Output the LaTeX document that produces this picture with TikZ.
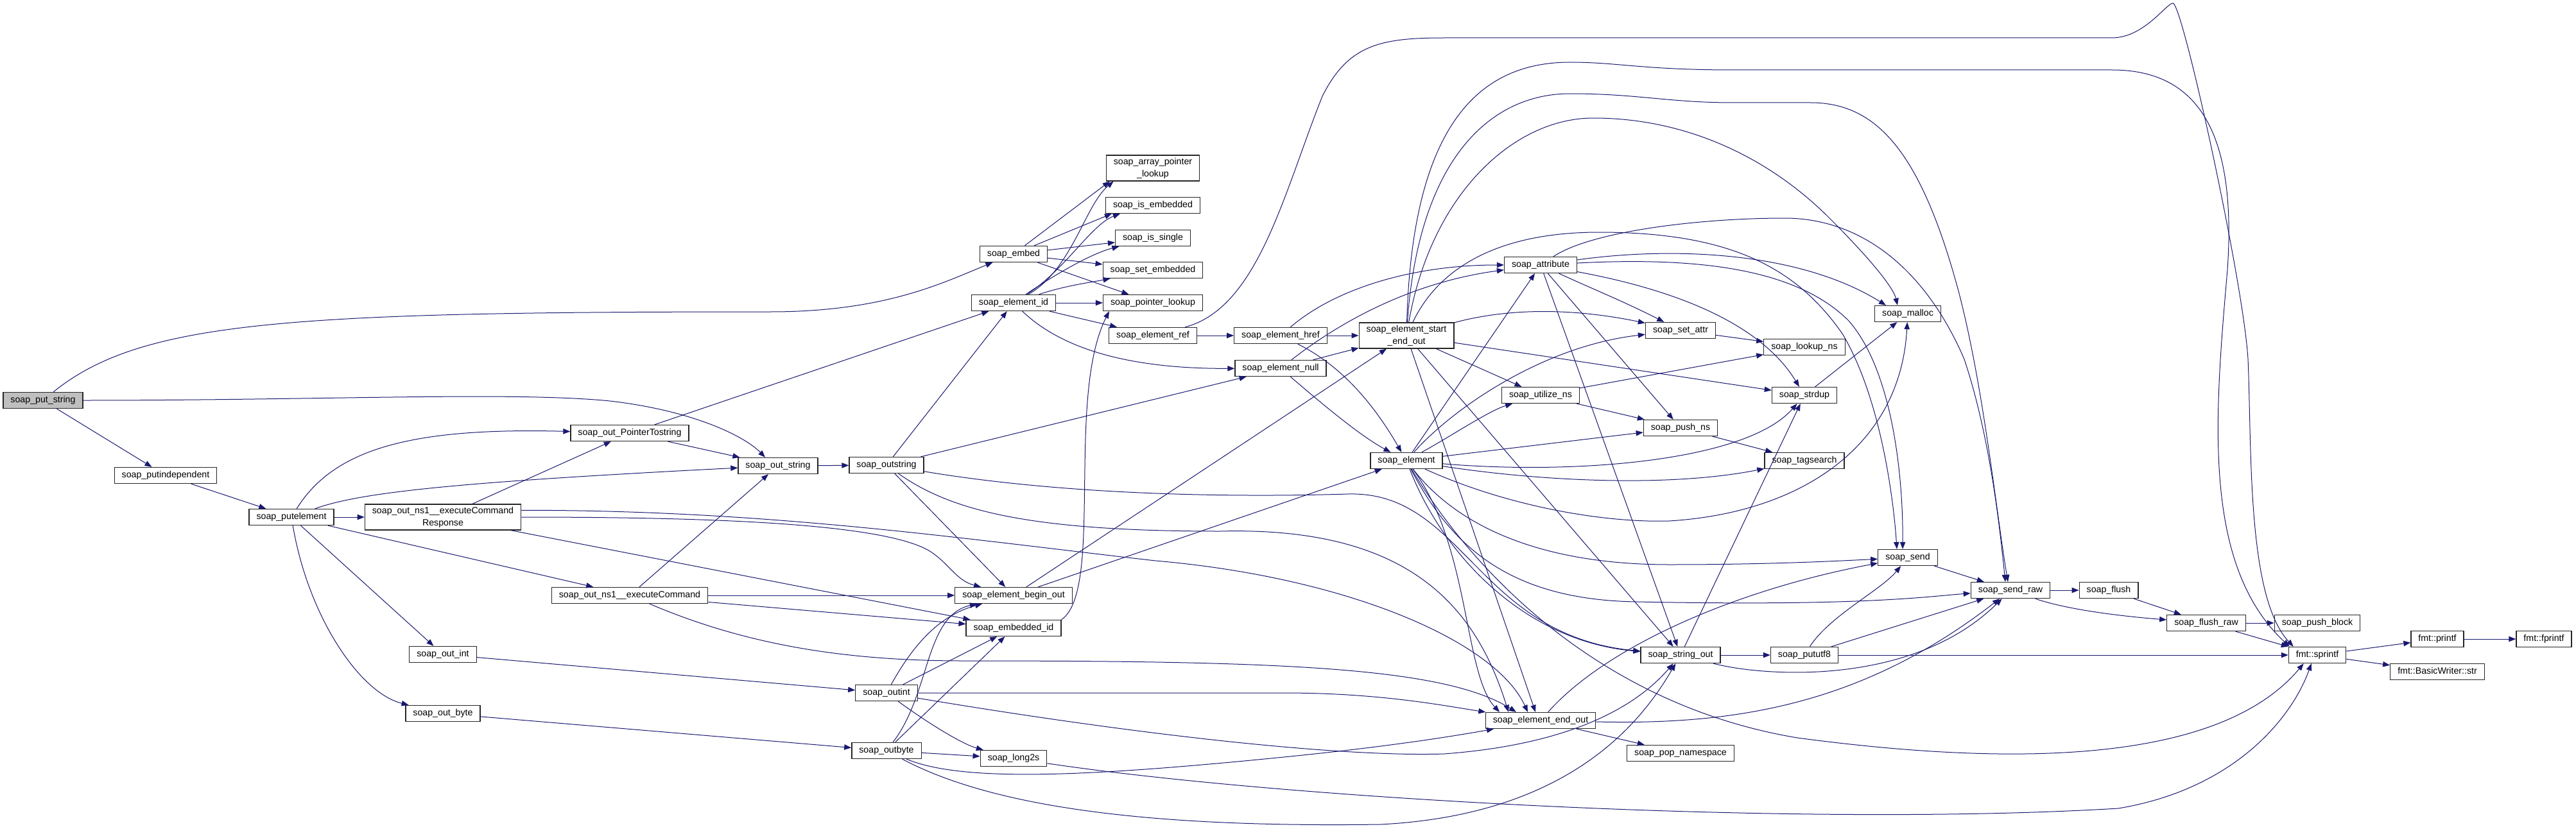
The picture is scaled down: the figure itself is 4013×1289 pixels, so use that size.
\documentclass[tikz,border=0pt]{standalone}
\usepackage{fontspec}
\setmainfont{Liberation Sans}
\usetikzlibrary{arrows.meta}
\definecolor{edgeblue}{HTML}{191970}
\tikzset{
  fnbase/.style={draw=black!85, fill=white, line width=0.65pt, inner xsep=5.75pt, inner ysep=0pt, font=\fontsize{7.1}{9.5}\selectfont},
  fn/.style={fnbase, minimum height=12.5pt, text height=5.2pt, text depth=1.5pt},
  fntwo/.style={fnbase, minimum height=20pt, align=center},
  fnroot/.style={fn, fill=black!25},
  call/.style={draw=edgeblue, line width=0.5pt, -{Triangle[length=5.5pt,width=4.2pt]}}
}
\begin{document}
\begin{tikzpicture}[x=0.5pt,y=-0.5pt]
\path[use as bounding box,fill=white] (0,0) rectangle (4013,1289);

\node[fnroot] (ps) at (67,624) {soap\_put\_string};
\node[fn] (pind) at (258,741) {soap\_putindependent};
\node[fn] (pel) at (454,806) {soap\_putelement};
\node[fntwo] (ecr) at (690,806) {soap\_out\_ns1\_\_executeCommand\\Response};
\node[fn] (oint) at (690,1020) {soap\_out\_int};
\node[fn] (obyte) at (690,1112) {soap\_out\_byte};
\node[fn] (optr) at (981,675) {soap\_out\_PointerTostring};
\node[fn] (ec) at (981,928) {soap\_out\_ns1\_\_executeCommand};
\node[fn] (ostr) at (1212,726) {soap\_out\_string};
\node[fn] (outstr) at (1381,725) {soap\_outstring};
\node[fn] (outint) at (1381,1080) {soap\_outint};
\node[fn] (outbyte) at (1381,1170) {soap\_outbyte};
\node[fn] (embed) at (1579,396) {soap\_embed};
\node[fn] (eid) at (1579,472) {soap\_element\_id};
\node[fn] (ebo) at (1579,928) {soap\_element\_begin\_out};
\node[fn] (embid) at (1579,979) {soap\_embedded\_id};
\node[fn] (l2s) at (1579,1182) {soap\_long2s};
\node[fntwo] (apl) at (1796,262) {soap\_array\_pointer\\\_lookup};
\node[fn] (isemb) at (1796,320) {soap\_is\_embedded};
\node[fn] (issgl) at (1796,371) {soap\_is\_single};
\node[fn] (setemb) at (1796,421) {soap\_set\_embedded};
\node[fn] (plook) at (1796,472) {soap\_pointer\_lookup};
\node[fn] (eref) at (1796,523) {soap\_element\_ref};
\node[fn] (ehref) at (1995,523) {soap\_element\_href};
\node[fn] (enull) at (1995,574) {soap\_element\_null};
\node[fntwo] (seo) at (2191,523) {soap\_element\_start\\\_end\_out};
\node[fn] (elem) at (2191,718) {soap\_element};
\node[fn] (attr) at (2400,413) {soap\_attribute};
\node[fn] (utns) at (2400,616) {soap\_utilize\_ns};
\node[fn] (eeo) at (2400,1123) {soap\_element\_end\_out};
\node[fn] (setattr) at (2618,515) {soap\_set\_attr};
\node[fn] (pushns) at (2618,667) {soap\_push\_ns};
\node[fn] (strout) at (2618,1021) {soap\_string\_out};
\node[fn] (popns) at (2618,1174) {soap\_pop\_namespace};
\node[fn] (lookns) at (2811,541) {soap\_lookup\_ns};
\node[fn] (strdup) at (2811,616) {soap\_strdup};
\node[fn] (tagsr) at (2811,718) {soap\_tagsearch};
\node[fn] (putf8) at (2811,1021) {soap\_pututf8};
\node[fn] (malloc) at (2972,489) {soap\_malloc};
\node[fn] (send) at (2972,869) {soap\_send};
\node[fn] (sraw) at (3132,920) {soap\_send\_raw};
\node[fn] (flush) at (3285,920) {soap\_flush};
\node[fn] (fraw) at (3437,971) {soap\_flush\_raw};
\node[fn] (pblock) at (3610,971) {soap\_push\_block};
\node[fn] (sprintf) at (3610,1021) {fmt::sprintf};
\node[fn] (printf) at (3797,996) {fmt::printf};
\node[fn] (bwstr) at (3797,1047) {fmt::BasicWriter::str};
\node[fn] (fprintf) at (3963,996) {fmt::fprintf};

\draw[call] (ps) .. controls (220,500) and (450,486) .. (1200,486) .. controls (1380,486) and (1470,440) .. (embed);
\draw[call] (ps) .. controls (500,624) and (800,610) .. (950,625) .. controls (1080,640) and (1160,680) .. ([xshift=-10pt]ostr.north);
\draw[call] (ps) -- (pind);
\draw[call] (pind) -- (pel);

\draw[call] (pel) .. controls (520,700) and (640,666) .. (optr);
\draw[call] (pel) .. controls (560,768) and (700,752) .. (ostr);
\draw[call] (pel) -- (ecr);
\draw[call] (pel) -- (ec);
\draw[call] (pel) -- (oint);
\draw[call] (pel) .. controls (480,960) and (560,1080) .. (obyte);

\draw[call] (ecr) -- (optr);
\draw[call] (ecr) .. controls (1100,806) and (1380,815) .. (1450,860) .. controls (1480,880) and (1490,905) .. (ebo);
\draw[call] (ecr.5) .. controls (1200,795) and (1500,840) .. (1800,874) .. controls (2100,900) and (2330,1000) .. ([xshift=-10pt]eeo.north);
\draw[call] (ecr) -- (embid);

\draw[call] (ec) -- (ostr);
\draw[call] (ec) -- (ebo);
\draw[call] (ec) -- (embid);
\draw[call] (ec) .. controls (1150,1000) and (1300,1030) .. (1500,1030) .. controls (2000,1030) and (2250,1040) .. ([xshift=-19pt]eeo.north);

\draw[call] (oint) -- (outint);
\draw[call] (obyte) -- (outbyte);

\draw[call] (optr) -- (eid);
\draw[call] (optr) -- (ostr);
\draw[call] (ostr) -- (outstr);

\draw[call] (outstr) -- (eid);
\draw[call] (outstr) -- (enull);
\draw[call] (outstr) -- (ebo);
\draw[call] (outstr) .. controls (1650,770) and (1900,776) .. (2100,770) .. controls (2280,765) and (2300,990) .. (strout);
\draw[call] (outstr) .. controls (1480,795) and (1600,828) .. (1900,828) .. controls (2200,820) and (2300,950) .. ([xshift=-25pt]eeo.north);

\draw[call] (outint) .. controls (1420,1010) and (1460,960) .. (ebo);
\draw[call] (outint) -- (embid);
\draw[call] (outint) .. controls (1450,1130) and (1500,1160) .. (l2s);
\draw[call] (outint) -- (2000,1080) .. controls (2150,1080) and (2250,1100) .. (eeo);
\draw[call] (outint) .. controls (1800,1150) and (2100,1180) .. (2250,1175) .. controls (2450,1160) and (2550,1100) .. (strout);

\draw[call] (outbyte) .. controls (1450,1080) and (1440,960) .. (ebo);
\draw[call] (outbyte) -- (embid);
\draw[call] (outbyte) -- (l2s);
\draw[call] (outbyte) .. controls (1500,1220) and (1700,1210) .. (2000,1180) .. controls (2150,1165) and (2250,1150) .. (eeo);
\draw[call] (outbyte) .. controls (1550,1260) and (1800,1290) .. (2150,1285) .. controls (2450,1270) and (2560,1120) .. (strout);
\draw[call] (l2s) .. controls (2000,1245) and (2800,1290) .. (3300,1260) .. controls (3480,1230) and (3570,1120) .. ([xshift=18pt]sprintf.south west);

\draw[call] (embed) -- ([xshift=3pt]apl.south west);
\draw[call] (embed) -- ([xshift=5pt]isemb.south west);
\draw[call] (embed) -- (issgl);
\draw[call] (embed) -- (setemb);
\draw[call] (embed) -- (plook);

\draw[call] (eid) .. controls (1640,430) and (1700,395) .. (issgl);
\draw[call] (eid) .. controls (1670,420) and (1690,320) .. ([xshift=6pt]apl.south west);
\draw[call] (eid) .. controls (1660,420) and (1700,350) .. ([xshift=11.5pt]isemb.south west);
\draw[call] (eid) .. controls (1660,445) and (1700,440) .. (setemb);
\draw[call] (eid) -- (plook);
\draw[call] (eid) -- (eref);
\draw[call] (eid) .. controls (1650,540) and (1750,575) .. (enull);
\draw[call] (embid.north east) .. controls (1720,920) and (1660,620) .. ([xshift=5pt]plook.south west);

\draw[call] (eref) -- (ehref);
\draw[call] (eref) .. controls (1960,480) and (2000,300) .. (2060,150) .. controls (2100,70) and (2150,59) .. (2250,59) -- (3290,59) .. controls (3340,59) and (3375,5) .. (3385,5) .. controls (3400,5) and (3495,440) .. (3502,560) .. controls (3508,700) and (3500,930) .. ([xshift=4pt]sprintf.north west);

\draw[call] (ehref) -- (seo);
\draw[call] (ehref) .. controls (2080,450) and (2200,413) .. (attr);
\draw[call] (ehref) .. controls (2090,570) and (2140,630) .. (elem);
\draw[call] (enull) -- (seo);
\draw[call] (enull) .. controls (2090,500) and (2200,440) .. (attr);
\draw[call] (enull) .. controls (2060,630) and (2120,680) .. (elem);
\draw[call] (ebo) -- (seo);
\draw[call] (ebo) -- (elem);

\draw[call] (seo) .. controls (2200,200) and (2300,97) .. (2446,97) .. controls (2520,97) and (2560,109) .. (2700,109) -- (3290,109) .. controls (3420,109) and (3485,200) .. (3470,420) .. controls (3450,650) and (3430,880) .. ([xshift=1pt]sprintf.north west);
\draw[call] (seo) .. controls (2210,250) and (2320,146) .. (2446,146) .. controls (2550,146) and (2600,160) .. (2700,160) -- (2820,160) .. controls (2920,160) and (2990,230) .. (3050,450) .. controls (3090,600) and (3110,800) .. ([xshift=-2pt]sraw.north);
\draw[call] (seo) .. controls (2230,300) and (2360,184) .. (2482,184) .. controls (2620,184) and (2750,240) .. (2850,340) .. controls (2920,410) and (2950,450) .. ([xshift=-8pt]malloc.north);
\draw[call] (seo) .. controls (2240,420) and (2330,362) .. (2491,362) .. controls (2700,362) and (2800,420) .. (2870,520) .. controls (2930,620) and (2950,780) .. ([xshift=-8.5pt]send.north);
\draw[call] (seo) .. controls (2350,480) and (2450,480) .. (setattr);
\draw[call] (seo) -- (utns);
\draw[call] (seo) -- (strdup);
\draw[call] (seo) -- ([xshift=-4pt]eeo.north);
\draw[call] (seo) -- (strout);

\draw[call] (elem) -- (attr);
\draw[call] (elem) .. controls (2260,640) and (2400,540) .. (setattr);
\draw[call] (elem) .. controls (2260,680) and (2320,640) .. (utns);
\draw[call] (elem) -- (pushns);
\draw[call] (elem) .. controls (2450,740) and (2720,720) .. (strdup);
\draw[call] (elem) .. controls (2400,750) and (2600,760) .. (tagsr);
\draw[call] (elem) .. controls (2350,790) and (2500,815) .. (2600,812) .. controls (2800,800) and (2960,700) .. (malloc);
\draw[call] (elem) .. controls (2270,820) and (2400,880) .. (2600,880) .. controls (2750,880) and (2850,875) .. (send);
\draw[call] (elem) .. controls (2260,850) and (2350,935) .. (2550,938) .. controls (2900,945) and (3000,930) .. (sraw);
\draw[call] (elem) .. controls (2250,870) and (2380,1000) .. (strout);
\draw[call] (elem) .. controls (2290,850) and (2280,1050) .. ([xshift=-32pt]eeo.north);
\draw[call] (elem) .. controls (2300,900) and (2500,1100) .. (2800,1150) .. controls (3100,1190) and (3450,1200) .. ([xshift=12pt]sprintf.south west);

\draw[call] (attr) .. controls (2480,450) and (2530,470) .. (setattr);
\draw[call] (attr) -- (pushns);
\draw[call] (attr) -- (strout);
\draw[call] (attr) .. controls (2600,450) and (2740,500) .. (strdup);
\draw[call] (attr) .. controls (2600,385) and (2800,390) .. ([xshift=-17pt]malloc.north);
\draw[call] (attr) .. controls (2650,400) and (2800,420) .. (2880,500) .. controls (2950,580) and (2965,750) .. ([xshift=-4pt]send.north);
\draw[call] (attr) .. controls (2480,360) and (2650,340) .. (2780,340) .. controls (2900,340) and (3000,420) .. (3060,560) .. controls (3100,680) and (3115,820) .. ([xshift=-4pt]sraw.north);

\draw[call] (utns) -- (lookns);
\draw[call] (utns) -- (pushns);
\draw[call] (setattr) -- (lookns);
\draw[call] (pushns) -- (tagsr);
\draw[call] (strdup) -- (malloc);

\draw[call] (strout) -- (strdup);
\draw[call] (strout) -- (putf8);
\draw[call] (strout) .. controls (2750,1055) and (2980,1070) .. (sraw);
\draw[call] (putf8) .. controls (2850,960) and (2930,920) .. (send);
\draw[call] (putf8) -- (sraw);
\draw[call] (putf8) -- (sprintf);

\draw[call] (eeo) -- (popns);
\draw[call] (eeo) .. controls (2500,1010) and (2700,920) .. (send);
\draw[call] (eeo) .. controls (2700,1130) and (2900,1100) .. (sraw);

\draw[call] (send) -- (sraw);
\draw[call] (sraw) -- (flush);
\draw[call] (sraw) .. controls (3220,950) and (3300,960) .. (fraw);
\draw[call] (flush) -- (fraw);
\draw[call] (fraw) -- (pblock);
\draw[call] (fraw) -- (sprintf);
\draw[call] (sprintf) -- (printf);
\draw[call] (sprintf) -- (bwstr);
\draw[call] (printf) -- (fprintf);
\end{tikzpicture}
\end{document}
